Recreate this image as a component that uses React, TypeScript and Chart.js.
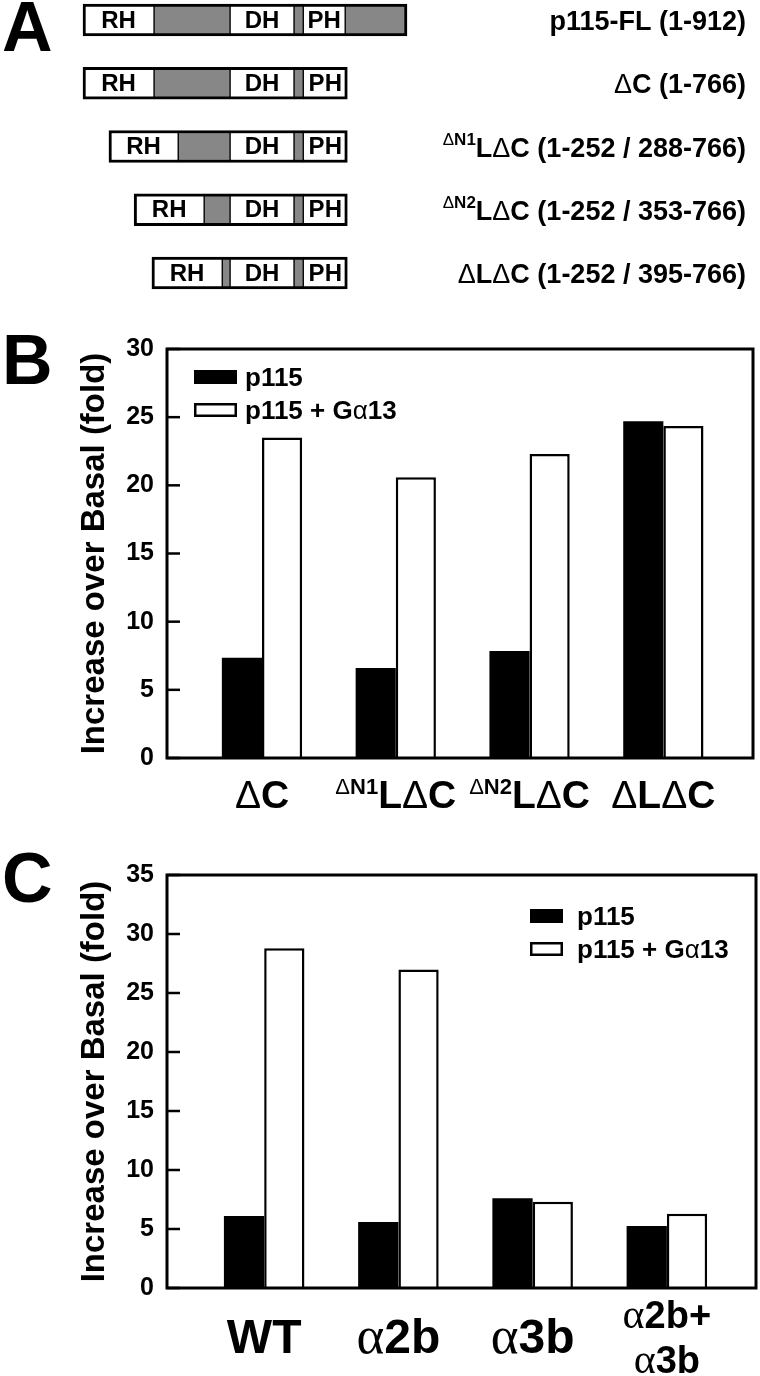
import React, { useEffect, useRef } from 'react';
import { Chart, registerables } from 'chart.js';

Chart.register(...registerables);

const SANS = '"Liberation Sans", Arial, Helvetica, sans-serif';
const SERIF = '"Liberation Serif", "Times New Roman", serif';
Chart.defaults.font.family = SANS;
Chart.defaults.color = '#000';

// ---------------- Panel A data (domain map, display units ~ residues) ----------------
const constructNames = [
  'p115-FL (1-912)',
  'ΔC (1-766)',
  '{ΔN1}LΔC (1-252 / 288-766)',
  '{ΔN2}LΔC (1-252 / 353-766)',
  'ΔLΔC (1-252 / 395-766)',
];
const rhSeg = [[0, 200], [0, 200], [73, 268], [144, 341], [194, 392]];
const linkerSeg = [[200, 414], [200, 414], [268, 414], [341, 414], [392, 414]];
const dhSeg = [[414, 594], [414, 594], [414, 594], [414, 594], [414, 594]];
const gapSeg = [[594, 620], [594, 620], [594, 620], [594, 620], [594, 620]];
const phSeg = [[620, 738], [620, 744], [620, 744], [620, 744], [620, 744]];
const ctermSeg = [[738, 912], null, null, null, null];
const domainLabels = ['RH', 'DH', 'PH'];

// ---------------- Panel B data ----------------
const bCategories = ['ΔC', '{ΔN1}LΔC', '{ΔN2}LΔC', 'ΔLΔC'];
const bP115 = [7.35, 6.6, 7.85, 24.7];
const bP115G13 = [23.5, 20.6, 22.3, 24.35];
const bTicks = [0, 5, 10, 15, 20, 25, 30];

// ---------------- Panel C data ----------------
const cCategories = ['WT', 'α2b', 'α3b', 'α2b+\nα3b'];
const cP115 = [6.1, 5.6, 7.6, 5.25];
const cP115G13 = [28.8, 27.0, 7.3, 6.3];
const cTicks = [0, 5, 10, 15, 20, 25, 30, 35];

const seriesLabels = ['p115', 'p115 + Gα13'];
const yTitle = 'Increase over Basal (fold)';

const GRAY = '#878787';

// ---------------- rich text helper ----------------
type Seg = { text: string; font: string; sup: boolean; w?: number };
function richSegments(s: string, size: number, supSize: number, serifGreek: boolean): Seg[] {
  const segs: Seg[] = [];
  let sup = false;
  for (const ch of Array.from(s)) {
    if (ch === '{') { sup = true; continue; }
    if (ch === '}') { sup = false; continue; }
    const sz = sup ? supSize : size;
    let font: string;
    if (ch === 'Δ') font = `normal ${sz}px ${SANS}`;
    else if (ch === 'α') font = serifGreek ? `normal ${Math.round(sz * 1.1)}px ${SERIF}` : `normal ${sz}px ${SANS}`;
    else font = `bold ${sz}px ${SANS}`;
    const last = segs[segs.length - 1];
    if (last && last.font === font && last.sup === sup) last.text += ch;
    else segs.push({ text: ch, font, sup });
  }
  return segs;
}
function drawRich(
  ctx: CanvasRenderingContext2D, s: string, x: number, y: number,
  align: 'left' | 'center' | 'right', size: number, supSize: number, supRaise: number, serifGreek: boolean,
) {
  const segs = richSegments(s, size, supSize, serifGreek);
  let total = 0;
  for (const sg of segs) { ctx.font = sg.font; sg.w = ctx.measureText(sg.text).width; total += sg.w; }
  let cx = align === 'left' ? x : align === 'center' ? x - total / 2 : x - total;
  ctx.textAlign = 'left';
  ctx.textBaseline = 'alphabetic';
  ctx.fillStyle = '#000';
  for (const sg of segs) {
    ctx.font = sg.font;
    ctx.fillText(sg.text, cx, sg.sup ? y - supRaise : y);
    cx += sg.w || 0;
  }
}

// ---------------- Panel A config ----------------
function panelAConfig(): any {
  const segDefs = [
    { label: 'RH', data: rhSeg, color: '#fff' },
    { label: 'linker', data: linkerSeg, color: GRAY },
    { label: 'DH', data: dhSeg, color: '#fff' },
    { label: 'gap', data: gapSeg, color: GRAY },
    { label: 'PH', data: phSeg, color: '#fff' },
    { label: 'Cterm', data: ctermSeg, color: GRAY },
  ];
  const plugin = {
    id: 'panelA',
    afterDatasetsDraw(chart: any) {
      const ctx: CanvasRenderingContext2D = chart.ctx;
      ctx.save();
      chart.data.datasets.forEach((ds: any, di: number) => {
        if (!domainLabels.includes(ds.label)) return;
        const meta = chart.getDatasetMeta(di);
        meta.data.forEach((el: any, i: number) => {
          if (!ds.data[i]) return;
          const { x, base, y } = el.getProps(['x', 'base', 'y'], true);
          ctx.font = `bold 24px ${SANS}`;
          ctx.fillStyle = '#000';
          ctx.textAlign = 'center';
          ctx.textBaseline = 'middle';
          ctx.fillText(ds.label, (x + base) / 2, y + 1);
        });
      });
      const ys = chart.scales.y;
      constructNames.forEach((name, i) => {
        const py = ys.getPixelForValue(i);
        drawRich(ctx, name, 746, py + 10, 'right', 27, 17, 12, false);
      });
      ctx.font = `bold 70px ${SANS}`;
      ctx.textAlign = 'left';
      ctx.textBaseline = 'alphabetic';
      ctx.fillStyle = '#000';
      ctx.fillText('A', 2, 51);
      ctx.restore();
    },
  };
  return {
    type: 'bar',
    data: {
      labels: constructNames,
      datasets: segDefs.map((d, di) => ({
        label: d.label,
        data: d.data,
        backgroundColor: d.color,
        borderColor: '#000',
        borderSkipped: false,
        borderWidth: (c: any) => {
          const i = c.dataIndex;
          if (i === undefined) return 2;
          const first = di === 0;
          const last = di === 5 || (di === 4 && ctermSeg[i] == null);
          return { top: 3, bottom: 3, left: first ? 3 : 1, right: last ? 3 : 1 };
        },
        barThickness: 32,
        grouped: false,
        clip: false,
      })),
    },
    options: {
      indexAxis: 'y',
      responsive: false,
      animation: false,
      layout: { padding: { left: 83, right: 353, top: 20, bottom: 27 } },
      plugins: { legend: { display: false }, tooltip: { enabled: false } },
      scales: {
        x: { type: 'linear', min: 0, max: 912, display: false },
        y: { type: 'category', offset: false, display: false },
      },
    },
    plugins: [plugin],
  };
}

// ---------------- Panel B / C config ----------------
type BarOpts = {
  categories: string[];
  s1: number[];
  s2: number[];
  ticks: number[];
  xMin: number;
  xMax: number;
  padTop: number;
  padRight: number;
  axisH: number;
  letter: string;
  letterY: number;
  legendX: number;
  legendY: number;
  swatchW: number;
  textX: number;
  labelSize: number;
  labelBase: number;
  multiSize: number;
  multiBase: number[];
  serifGreek: boolean;
};

function barConfig(o: BarOpts): any {
  const plugin = {
    id: 'barDecor',
    afterDraw(chart: any) {
      const ctx: CanvasRenderingContext2D = chart.ctx;
      const a = chart.chartArea;
      const ys = chart.scales.y;
      const xs = chart.scales.x;
      ctx.save();
      ctx.strokeStyle = '#000';
      ctx.lineWidth = 3;
      ctx.strokeRect(a.left, a.top, a.right - a.left, a.bottom - a.top);
      ctx.lineWidth = 2.5;
      ys.ticks.forEach((t: any) => {
        const py = ys.getPixelForValue(t.value);
        ctx.beginPath();
        ctx.moveTo(a.left, py);
        ctx.lineTo(a.left + 13, py);
        ctx.stroke();
      });
      o.categories.forEach((lab, i) => {
        const px = xs.getPixelForValue(i + 1);
        const lines = lab.split('\n');
        if (lines.length > 1) {
          lines.forEach((ln, j) =>
            drawRich(ctx, ln, px, a.bottom + o.multiBase[j], 'center', o.multiSize, 22, 14, o.serifGreek));
        } else {
          drawRich(ctx, lab, px, a.bottom + o.labelBase, 'center', o.labelSize, 22, 14, o.serifGreek);
        }
      });
      chart.data.datasets.forEach((ds: any, i: number) => {
        const cy = o.legendY + i * 33;
        ctx.fillStyle = ds.backgroundColor;
        ctx.fillRect(o.legendX, cy - 7, o.swatchW, 14);
        ctx.strokeStyle = '#000';
        ctx.lineWidth = 2.5;
        ctx.strokeRect(o.legendX + 1.25, cy - 5.75, o.swatchW - 2.5, 11.5);
        drawRich(ctx, ds.label, o.textX, cy + 9, 'left', 26, 16, 0, false);
      });
      ctx.font = `bold 70px ${SANS}`;
      ctx.textAlign = 'left';
      ctx.textBaseline = 'alphabetic';
      ctx.fillStyle = '#000';
      ctx.fillText(o.letter, 2, o.letterY);
      ctx.restore();
    },
  };
  return {
    type: 'bar',
    data: {
      datasets: [
        {
          label: seriesLabels[0],
          data: o.s1.map((v, i) => ({ x: i + 1, y: v })),
          backgroundColor: '#000',
          borderColor: '#000',
          borderWidth: 0,
        },
        {
          label: seriesLabels[1],
          data: o.s2.map((v, i) => ({ x: i + 1, y: v })),
          backgroundColor: '#fff',
          borderColor: '#000',
          borderWidth: 2.5,
          borderSkipped: 'bottom',
        },
      ],
    },
    options: {
      responsive: false,
      animation: false,
      barPercentage: 1,
      categoryPercentage: 0.6,
      layout: { padding: { left: 0, right: o.padRight, top: o.padTop, bottom: 0 } },
      plugins: { legend: { display: false }, tooltip: { enabled: false } },
      scales: {
        x: {
          type: 'linear',
          min: o.xMin,
          max: o.xMax,
          offset: false,
          grid: { display: false, drawTicks: false },
          border: { display: false },
          ticks: { display: false },
          afterBuildTicks: (s: any) => { s.ticks = o.categories.map((_, i) => ({ value: i + 1 })); },
          afterFit: (s: any) => { s.height = o.axisH; },
        },
        y: {
          type: 'linear',
          min: o.ticks[0],
          max: o.ticks[o.ticks.length - 1],
          grid: { display: false, drawTicks: false },
          border: { display: false },
          afterBuildTicks: (s: any) => { s.ticks = o.ticks.map((v) => ({ value: v })); },
          ticks: {
            color: '#000',
            padding: 13,
            font: { family: SANS, size: 25, weight: 'bold' },
          },
          title: {
            display: true,
            text: yTitle,
            color: '#000',
            font: { family: SANS, size: 33, weight: 'bold' },
            padding: { top: 75, bottom: 0 },
          },
          afterFit: (s: any) => { s.width = 167; },
        },
      },
    },
    plugins: [plugin],
  };
}

function ChartCanvas({ make, top, height }: { make: () => any; top: number; height: number }) {
  const ref = useRef<HTMLCanvasElement>(null);
  useEffect(() => {
    const chart = new Chart(ref.current as HTMLCanvasElement, make());
    return () => chart.destroy();
  }, []);
  return (
    <canvas
      ref={ref}
      width={760}
      height={height}
      style={{ position: 'absolute', left: 0, top, width: 760, height }}
    />
  );
}

export default function App() {
  useEffect(() => {
    document.body.style.margin = '0';
    document.body.style.background = '#fff';
  }, []);
  return (
    <div style={{ position: 'absolute', left: 0, top: 0, width: 760, height: 1376, background: '#fff' }}>
      <ChartCanvas top={0} height={300} make={panelAConfig} />
      <ChartCanvas
        top={300}
        height={540}
        make={() =>
          barConfig({
            categories: bCategories,
            s1: bP115,
            s2: bP115G13,
            ticks: bTicks,
            xMin: 0.29,
            xMax: 4.67,
            padTop: 49,
            padRight: 7,
            axisH: 82,
            letter: 'B',
            letterY: 84,
            legendX: 194,
            legendY: 77,
            swatchW: 43,
            textX: 245,
            labelSize: 39,
            labelBase: 50,
            multiSize: 36,
            multiBase: [40, 85],
            serifGreek: true,
          })
        }
      />
      <ChartCanvas
        top={840}
        height={536}
        make={() =>
          barConfig({
            categories: cCategories,
            s1: cP115,
            s2: cP115G13,
            ticks: cTicks,
            xMin: 0.276,
            xMax: 4.664,
            padTop: 35,
            padRight: 4,
            axisH: 88,
            letter: 'C',
            letterY: 62,
            legendX: 530,
            legendY: 76,
            swatchW: 33,
            textX: 577,
            labelSize: 48,
            labelBase: 65,
            multiSize: 38,
            multiBase: [40, 85],
            serifGreek: true,
          })
        }
      />
    </div>
  );
}
